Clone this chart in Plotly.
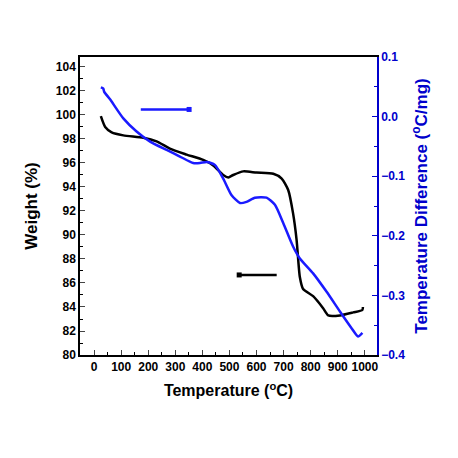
import plotly.graph_objects as go

# Weight (TGA) curve, left axis
temp_w = [25, 41, 65, 108, 182, 231, 280, 342, 403, 440, 477, 496, 514, 551, 600, 662, 693, 717, 735, 748, 760, 772, 809, 846, 865, 908, 957, 991, 993]
weight = [99.9, 99.0, 98.55, 98.3, 98.1, 97.8, 97.2, 96.7, 96.25, 95.8, 95.0, 94.8, 95.0, 95.3, 95.2, 95.1, 94.7, 93.75, 91.8, 89.6, 86.5, 85.5, 84.9, 83.9, 83.3, 83.3, 83.55, 83.75, 84.0]

# Temperature difference (DTA) curve, right axis
temp_d = [25, 34, 37, 59, 108, 157, 207, 268, 317, 366, 391, 416, 446, 477, 508, 539, 563, 594, 637, 668, 699, 735, 760, 809, 859, 908, 951, 975, 991]
tdiff = [0.049, 0.047, 0.042, 0.029, -0.003, -0.025, -0.042, -0.056, -0.067, -0.078, -0.078, -0.076, -0.081, -0.104, -0.132, -0.145, -0.143, -0.136, -0.136, -0.148, -0.179, -0.218, -0.238, -0.263, -0.294, -0.327, -0.355, -0.369, -0.363]

BLUE = "#1a1aff"
AXBLUE = "#0000cc"
FONT = "Liberation Sans"

fig = go.Figure()
fig.add_trace(go.Scatter(x=temp_w, y=weight, mode="lines", line=dict(color="black", width=2.5, shape="spline", smoothing=0.6), yaxis="y", showlegend=False))
fig.add_trace(go.Scatter(x=temp_d, y=tdiff, mode="lines", line=dict(color=BLUE, width=2.5, shape="spline", smoothing=0.6), yaxis="y2", showlegend=False))

# arrows
fig.add_annotation(x=351, y=0.012, ax=167, ay=0.012, xref="x", yref="y2", axref="x", ayref="y2",
                   showarrow=True, arrowhead=7, arrowsize=0.5, arrowwidth=2.5, arrowcolor=BLUE, text="")
fig.add_annotation(x=536, y=86.67, ax=680, ay=86.67, xref="x", yref="y", axref="x", ayref="y",
                   showarrow=True, arrowhead=7, arrowsize=0.5, arrowwidth=2.5, arrowcolor="black", text="")

fig.update_layout(
    width=458, height=458,
    margin=dict(l=72, r=89, t=49, b=111, autoexpand=False),
    paper_bgcolor="white", plot_bgcolor="white",
    font=dict(family=FONT, size=12, color="black"),
    xaxis=dict(range=[-52, 1045], dtick=100, tick0=0, ticks="inside", ticklen=5, tickwidth=1, tickangle=0,
               automargin=False,
               minor=dict(dtick=50, ticks="inside", ticklen=3, tickcolor="black"),
               showline=True, linecolor="black", linewidth=1.5, mirror=True, showgrid=False, zeroline=False,
               tickfont=dict(family=FONT, size=12, color="black", weight="bold"),
               title=dict(text="Temperature (<sup>o</sup>C)", font=dict(family=FONT, size=16, color="black", weight="bold"), standoff=12)),
    yaxis=dict(range=[80, 104.83], dtick=2, tick0=80, ticks="inside", ticklen=5, tickwidth=1,
               automargin=False,
               minor=dict(dtick=1, ticks="inside", ticklen=3, tickcolor="black"),
               showline=True, linecolor="black", linewidth=1.5, showgrid=False, zeroline=False,
               tickfont=dict(family=FONT, size=12, color="black", weight="bold"),
               title=dict(text="Weight (%)", font=dict(family=FONT, size=17, color="black", weight="bold"), standoff=14)),
    yaxis2=dict(range=[-0.4, 0.1], dtick=0.1, tick0=0, tickformat=".1f", overlaying="y", side="right",
                automargin=False,
                ticks="inside", ticklen=5, tickwidth=1, tickcolor=AXBLUE,
                minor=dict(dtick=0.05, ticks="inside", ticklen=3, tickcolor=AXBLUE),
                showline=True, linecolor=AXBLUE, linewidth=1.5, showgrid=False, zeroline=False,
                tickfont=dict(family=FONT, size=12, color=AXBLUE, weight="bold"),
                title=dict(text="Temperature Difference (<sup>o</sup>C/mg)", font=dict(family=FONT, size=17, color=AXBLUE, weight="bold"), standoff=11)),
)

fig.write_html("out.html")
